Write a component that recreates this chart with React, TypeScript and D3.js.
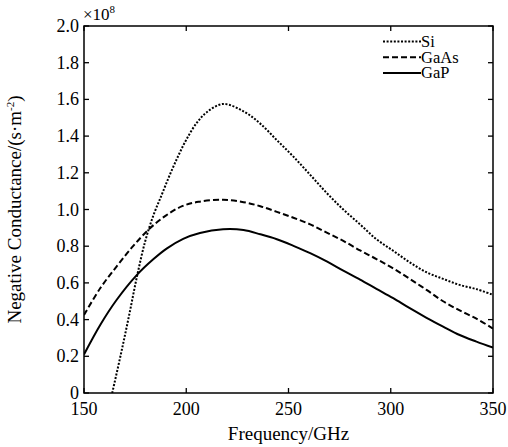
import React from "react";
import * as d3 from "d3";

const freqSi = [163.8, 168, 172, 176, 180, 184, 188, 192, 196, 200, 205, 210, 218, 228, 236.2, 244.3, 252.4, 260.6, 268.7, 276.8, 285, 293, 301.2, 309.3, 317.5, 325.6, 333.7, 341.9, 350];
const valSi = [0, 0.21, 0.42, 0.64, 0.83, 0.97, 1.08, 1.19, 1.29, 1.38, 1.47, 1.53, 1.575, 1.535, 1.468, 1.378, 1.288, 1.189, 1.09, 1.0, 0.919, 0.838, 0.775, 0.712, 0.658, 0.622, 0.589, 0.566, 0.535];

const freqGaAs = [150, 158, 166, 174, 182, 190, 198, 206, 218, 228, 236.2, 244.3, 252.4, 260.6, 268.7, 276.8, 285, 293, 301.2, 309.3, 317.5, 325.6, 333.7, 341.9, 350];
const valGaAs = [0.425, 0.572, 0.69, 0.8, 0.895, 0.967, 1.018, 1.042, 1.053, 1.04, 1.018, 0.987, 0.955, 0.919, 0.874, 0.829, 0.777, 0.73, 0.679, 0.622, 0.562, 0.5, 0.45, 0.405, 0.351];

const freqGaP = [150, 158, 166, 176, 184, 190.4, 198.5, 206.7, 218, 228, 236.2, 244.3, 252.4, 260.6, 268.7, 276.8, 285, 293, 301.2, 309.3, 317.5, 325.6, 333.7, 341.9, 350];
const valGaP = [0.21, 0.372, 0.508, 0.645, 0.73, 0.787, 0.84, 0.872, 0.892, 0.888, 0.865, 0.838, 0.802, 0.762, 0.717, 0.667, 0.618, 0.568, 0.517, 0.462, 0.41, 0.362, 0.316, 0.28, 0.247];

const xTicks = [150, 200, 250, 300, 350];
const yTicks = [0, 0.2, 0.4, 0.6, 0.8, 1.0, 1.2, 1.4, 1.6, 1.8, 2.0];
const seriesNames = ["Si", "GaAs", "GaP"];
const dashes = ["2,1.6", "6,3", "none"];

const W = 508, H = 447;
const left = 84, right = 493, top = 26, bottom = 393;
const FONT = "'Liberation Serif', 'Times New Roman', serif";

export default function App() {
  const x = d3.scaleLinear().domain([150, 350]).range([left, right]);
  const y = d3.scaleLinear().domain([0, 2]).range([bottom, top]);
  const line = d3.line<[number, number]>().x(d => x(d[0])).y(d => y(d[1])).curve(d3.curveCatmullRom.alpha(0.5));
  const data = [
    freqSi.map((f, i) => [f, valSi[i]] as [number, number]),
    freqGaAs.map((f, i) => [f, valGaAs[i]] as [number, number]),
    freqGaP.map((f, i) => [f, valGaP[i]] as [number, number]),
  ];
  const tl = 5;
  return (
    <svg width={W} height={H} style={{ position: "absolute", left: 0, top: 0, background: "#fff" }} fontFamily={FONT}>
      <rect x={0} y={0} width={W} height={H} fill="#fff" />
      <defs>
        <clipPath id="plotclip">
          <rect x={left} y={top} width={right - left} height={bottom - top} />
        </clipPath>
      </defs>
      {xTicks.map(t => (
        <g key={"x" + t}>
          <line x1={x(t)} x2={x(t)} y1={bottom} y2={bottom - tl} stroke="#000" strokeWidth={1.3} />
          <line x1={x(t)} x2={x(t)} y1={top} y2={top + tl} stroke="#000" strokeWidth={1.3} />
          <text x={x(t)} y={415} textAnchor="middle" fontSize={18}>{t}</text>
        </g>
      ))}
      {yTicks.map(t => (
        <g key={"y" + t}>
          <line x1={left} x2={left + tl} y1={y(t)} y2={y(t)} stroke="#000" strokeWidth={1.3} />
          <line x1={right} x2={right - tl} y1={y(t)} y2={y(t)} stroke="#000" strokeWidth={1.3} />
          <text x={79} y={y(t) + 6} textAnchor="end" fontSize={18}>{t === 0 ? "0" : t.toFixed(1)}</text>
        </g>
      ))}
      <text x={83} y={20} fontSize={17}>×10<tspan fontSize={11} dy={-7}>8</tspan></text>
      <g clipPath="url(#plotclip)">
        {data.map((d, i) => (
          <path key={i} d={line(d) || ""} fill="none" stroke="#000" strokeWidth={2} strokeDasharray={dashes[i]} />
        ))}
      </g>
      <rect x={left} y={top} width={right - left} height={bottom - top} fill="none" stroke="#000" strokeWidth={1.5} />
      {seriesNames.map((n, i) => {
        const ly = 41.5 + i * 15.7;
        return (
          <g key={n}>
            <line x1={383} x2={421} y1={ly} y2={ly} stroke="#000" strokeWidth={2} strokeDasharray={dashes[i]} />
            <text x={421} y={ly + 5.5} fontSize={16.5}>{n}</text>
          </g>
        );
      })}
      <text x={(left + right) / 2} y={440} textAnchor="middle" fontSize={19}>Frequency/GHz</text>
      <text transform={`translate(21,${(top + bottom) / 2}) rotate(-90)`} textAnchor="middle" fontSize={19}>
        Negative Conductance/(s·m<tspan fontSize={11} dy={-7}>-2</tspan><tspan dy={7}>)</tspan>
      </text>
    </svg>
  );
}
